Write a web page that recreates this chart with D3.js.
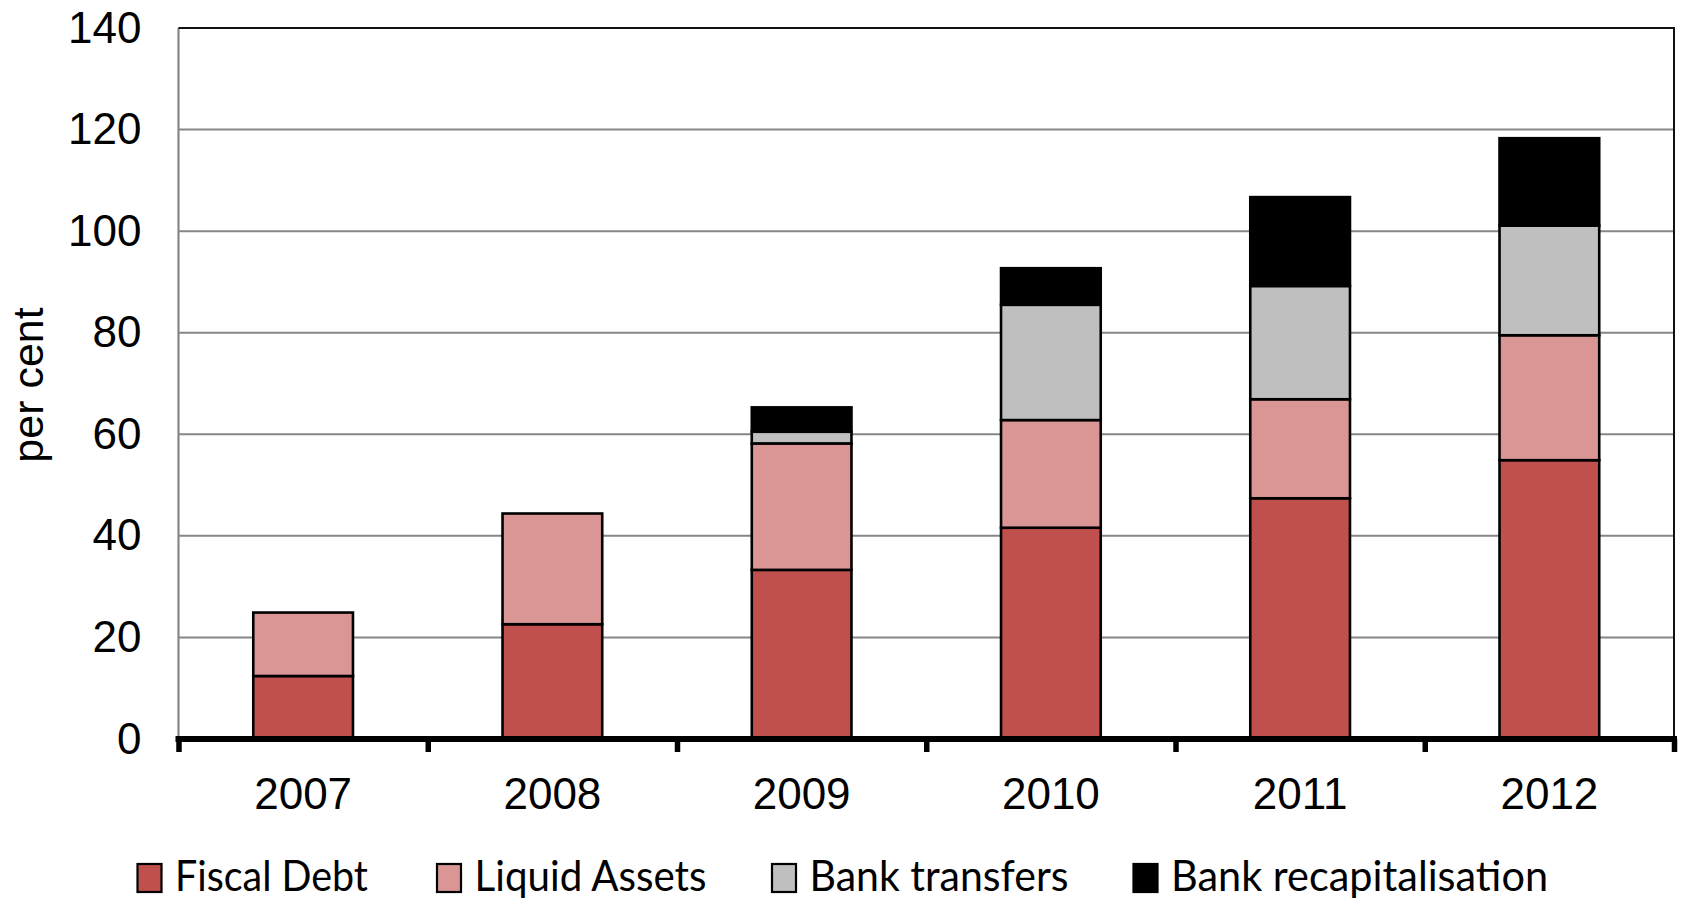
<!DOCTYPE html>
<html>
<head>
<meta charset="utf-8">
<script src="https://cdn.jsdelivr.net/npm/d3@7/dist/d3.min.js"></script>
<style>
  html, body { margin: 0; padding: 0; background: #fff; }
  svg { display: block; }
</style>
</head>
<body>
<svg id="chart" width="1681" height="901"></svg>
<script>
// Stacked components, per cent
const years = ["2007", "2008", "2009", "2010", "2011", "2012"];
const fiscalDebt = [12.4, 22.6, 33.3, 41.6, 47.4, 54.9];
const liquidAssets = [12.5, 21.8, 24.9, 21.2, 19.5, 24.6];
const bankTransfers = [0, 0, 2.3, 22.7, 22.3, 21.6];
const bankRecap = [0, 0, 4.8, 7.2, 17.5, 17.2];
const seriesNames = ["Fiscal Debt", "Liquid Assets", "Bank transfers", "Bank recapitalisation"];
const yTicks = [0, 20, 40, 60, 80, 100, 120, 140];

const colors = ["#C0504D", "#D99694", "#BFBFBF", "#000000"];
const seriesValues = [fiscalDebt, liquidAssets, bankTransfers, bankRecap];

const svg = d3.select("#chart");
const plotL = 178.5, plotR = 1674, plotT = 28, plotB = 739;

const x = d3.scaleBand().domain(years).range([plotL, plotR]).paddingInner(0.6).paddingOuter(0.3);
const xEdge = d3.scaleLinear().domain([0, years.length]).range([plotL, plotR]);
const y = d3.scaleLinear().domain([0, 140]).range([plotB, plotT]);

// Horizontal gridlines
svg.append("g")
  .selectAll("line")
  .data(yTicks.filter(t => t > 0 && t < 140))
  .join("line")
  .attr("x1", plotL).attr("x2", plotR)
  .attr("y1", d => y(d)).attr("y2", d => y(d))
  .attr("stroke", "#868686").attr("stroke-width", 2);

// Plot frame: grey left edge, dark top and right edges
svg.append("line").attr("x1", plotL).attr("x2", plotL).attr("y1", plotT).attr("y2", plotB)
  .attr("stroke", "#868686").attr("stroke-width", 2.2);
svg.append("line").attr("x1", plotL).attr("x2", plotR + 1).attr("y1", plotT).attr("y2", plotT)
  .attr("stroke", "#111").attr("stroke-width", 2);
svg.append("line").attr("x1", plotR).attr("x2", plotR).attr("y1", plotT).attr("y2", plotB)
  .attr("stroke", "#111").attr("stroke-width", 2);

// Stacked bars
const table = years.map((yr, i) => {
  const row = { year: yr };
  seriesNames.forEach((s, k) => { row[s] = seriesValues[k][i]; });
  return row;
});
const stacked = d3.stack().keys(seriesNames)(table);

svg.append("g")
  .selectAll("g")
  .data(stacked)
  .join("g")
  .attr("fill", (d, k) => colors[k])
  .selectAll("rect")
  .data(d => d.filter(p => p[1] - p[0] > 0))
  .join("rect")
  .attr("x", d => x(d.data.year))
  .attr("width", x.bandwidth())
  .attr("y", d => y(d[1]))
  .attr("height", d => y(d[0]) - y(d[1]))
  .attr("stroke", "#000")
  .attr("stroke-width", 2.6);

// Y axis labels
const yAxis = d3.axisLeft(y).tickValues(yTicks).tickSize(0).tickPadding(37);
const gy = svg.append("g").attr("transform", `translate(${plotL},0)`).call(yAxis);
gy.select(".domain").remove();
gy.selectAll("text")
  .attr("font-family", "Liberation Sans, Arial, sans-serif")
  .attr("font-size", 44)
  .attr("fill", "#000");

// X axis: thick baseline with tick marks between categories
const xTickAxis = d3.axisBottom(xEdge).tickValues(d3.range(years.length + 1)).tickSize(13).tickFormat("");
const gxt = svg.append("g").attr("transform", `translate(0,${plotB})`).call(xTickAxis);
gxt.select(".domain").attr("stroke", "#000").attr("stroke-width", 6).attr("d", `M${plotL - 3},0H${plotR + 3}`);
gxt.selectAll(".tick line").attr("stroke", "#000").attr("stroke-width", 5.5);

const xAxis = d3.axisBottom(x).tickSize(0).tickPadding(0);
const gx = svg.append("g").attr("transform", `translate(0,${plotB})`).call(xAxis);
gx.select(".domain").remove();
gx.selectAll("text")
  .attr("dy", null)
  .attr("y", 70)
  .attr("font-family", "Liberation Sans, Arial, sans-serif")
  .attr("font-size", 44)
  .attr("fill", "#000");

// Y axis title
svg.append("text")
  .attr("transform", "translate(43,385) rotate(-90)")
  .attr("text-anchor", "middle")
  .attr("font-family", "Liberation Sans, Arial, sans-serif")
  .attr("font-size", 43)
  .attr("fill", "#000")
  .text("per cent");

// Legend
const legendX = [137.5, 437, 772, 1133.5];
const legendW = [193, 232, 259, 377];
const legend = svg.append("g");
seriesNames.forEach((name, k) => {
  legend.append("rect")
    .attr("x", legendX[k]).attr("y", 864)
    .attr("width", 24).attr("height", 28)
    .attr("fill", colors[k])
    .attr("stroke", "#000").attr("stroke-width", 2.2);
  legend.append("text")
    .attr("x", legendX[k] + 37.5).attr("y", 891)
    .attr("font-family", "Lato, sans-serif")
    .attr("font-size", 42)
    .attr("fill", "#000")
    .attr("textLength", legendW[k])
    .attr("lengthAdjust", "spacingAndGlyphs")
    .text(name);
});
</script>
</body>
</html>
